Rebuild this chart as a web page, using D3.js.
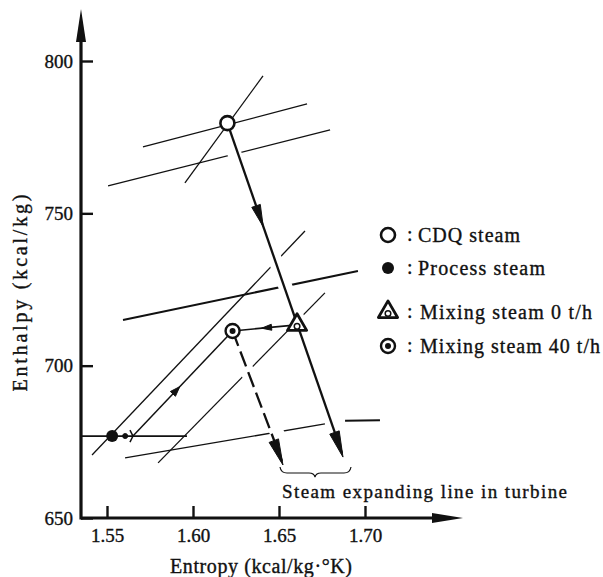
<!DOCTYPE html>
<html>
<head>
	<title>h-s diagram</title>
	<script src="https://d3js.org/d3.v7.min.js"></script>
	<style type="text/css">
		body { margin: 0; background: #fff; }
		text { font-family: "Liberation Serif", "Times New Roman", serif; fill: #111; stroke: #111; stroke-width: 0.35px; }
	</style>
</head>
<body>
<div id="svg"></div>
<script type="text/javascript">
	// tick values
	var entropyTicks = [1.55, 1.60, 1.65, 1.70];
	var enthalpyTicks = [650, 700, 750, 800];

	// steam states
	var stateNames = ["CDQ steam", "Process steam", "Mixing steam 0 t/h", "Mixing steam 40 t/h"];
	var stateEntropy = [1.620, 1.553, 1.6605, 1.623];
	var stateEnthalpy = [779.6, 676.9, 713.4, 711.4];

	// isobar / background lines [s1, h1, s2, h2]
	var isoLines = [
		[1.5709, 771.8, 1.6663, 785.9],
		[1.5506, 759.0, 1.6797, 777.4],
		[1.5953, 760.0, 1.6407, 795.1],
		[1.5593, 715.0, 1.6959, 731.1],
		[1.5605, 669.7, 1.6767, 680.9],
		[1.6884, 681.9, 1.7087, 682.1],
		[1.5349, 676.9, 1.5965, 676.9],
		[1.5413, 670.7, 1.6651, 744.2],
		[1.5797, 668.1, 1.6767, 723.9]
	];
	var isoWidths = [1.3, 1.3, 1.3, 2, 1.3, 2, 1.8, 1.3, 1.3];

	// turbine expansion line end points [s, h]
	var expEndCDQ = [1.6872, 670.0];
	var expEndMix = [1.6523, 667.4];
	// process steam line start
	var processStart = [1.5651, 676.9];

	var width = 603, height = 577;

	var svg = d3.select("#svg")
		.append("svg")
		.attr("width", width)
		.attr("height", height);

	var x = d3.scaleLinear().domain([1.55, 1.70]).range([107, 365]);
	var y = d3.scaleLinear().domain([650, 800]).range([518, 61]);

	var x0 = 81, y0 = 518;

	function arrowHead(g, x1, y1, x2, y2, t, len, half) {
		// head with tip at fraction t along (x1,y1)->(x2,y2)
		var a = Math.atan2(y2 - y1, x2 - x1);
		var tx = x1 + (x2 - x1) * t, ty = y1 + (y2 - y1) * t;
		var bx = tx - len * Math.cos(a), by = ty - len * Math.sin(a);
		var px = -Math.sin(a) * half, py = Math.cos(a) * half;
		g.append("path")
			.attr("d", "M" + tx + "," + ty + "L" + (bx + px) + "," + (by + py) + "L" + (bx - px) + "," + (by - py) + "Z")
			.attr("fill", "#111");
	}

	// isobars
	svg.append("g").selectAll("line")
		.data(isoLines)
		.enter()
		.append("line")
		.attr("x1", d => x(d[0])).attr("y1", d => y(d[1]))
		.attr("x2", d => x(d[2])).attr("y2", d => y(d[3]))
		.attr("stroke", "#111")
		.attr("stroke-width", (d, i) => isoWidths[i]);

	var cdq = [x(stateEntropy[0]), y(stateEnthalpy[0])];
	var proc = [x(stateEntropy[1]), y(stateEnthalpy[1])];
	var mix0 = [x(stateEntropy[2]), y(stateEnthalpy[2])];
	var mix40 = [x(stateEntropy[3]), y(stateEnthalpy[3])];
	var endA = [x(expEndCDQ[0]), y(expEndCDQ[1])];
	var endB = [x(expEndMix[0]), y(expEndMix[1])];
	var pst = [x(processStart[0]), y(processStart[1])];

	// white halos cut the background lines where arrows cross
	var halo = svg.append("g").attr("stroke", "#fff").attr("stroke-width", 14);
	halo.append("line").attr("x1", cdq[0]).attr("y1", cdq[1] + 12).attr("x2", endA[0]).attr("y2", endA[1] - 20);
	halo.append("line").attr("x1", mix40[0]).attr("y1", mix40[1] + 10).attr("x2", endB[0]).attr("y2", endB[1] - 20);

	var arrows = svg.append("g").attr("stroke", "#111");

	// CDQ expansion line
	arrows.append("line")
		.attr("x1", cdq[0]).attr("y1", cdq[1]).attr("x2", endA[0] - 1).attr("y2", endA[1] - 4)
		.attr("stroke-width", 2.3);
	arrowHead(arrows, cdq[0], cdq[1], endA[0], endA[1], 0.31, 22, 4.5);
	arrowHead(arrows, cdq[0], cdq[1], endA[0], endA[1], 1, 26, 5);

	// mixing 40 t/h expansion line (dashed)
	arrows.append("line")
		.attr("x1", mix40[0]).attr("y1", mix40[1]).attr("x2", endB[0] - 1).attr("y2", endB[1] - 4)
		.attr("stroke-width", 2.3)
		.attr("stroke-dasharray", "16,6");
	arrowHead(arrows, mix40[0], mix40[1], endB[0], endB[1], 1, 26, 5);

	// process steam -> mixing 40
	arrows.append("line")
		.attr("x1", pst[0]).attr("y1", pst[1]).attr("x2", mix40[0]).attr("y2", mix40[1])
		.attr("stroke-width", 1.5);
	arrowHead(arrows, pst[0], pst[1], mix40[0], mix40[1], 0.47, 10, 3.5);
	arrows.append("path")
		.attr("d", "M" + (pst[0] - 3) + "," + (pst[1] - 6) + "L" + pst[0] + "," + pst[1] + "L" + (pst[0] - 3) + "," + (pst[1] + 6))
		.attr("fill", "none").attr("stroke-width", 1.5);
	arrows.append("circle").attr("cx", proc[0] + 13).attr("cy", proc[1]).attr("r", 2.5).attr("fill", "#111");

	// mixing 0 -> mixing 40
	arrows.append("line")
		.attr("x1", mix0[0]).attr("y1", mix0[1]).attr("x2", mix40[0]).attr("y2", mix40[1])
		.attr("stroke-width", 1.6);
	arrowHead(arrows, mix0[0], mix0[1], mix40[0], mix40[1], 0.55, 10, 3);

	// brace under expansion lines
	svg.append("path")
		.attr("d", "M280,467 Q281,473 287,473 L309,473 Q314,473 315,477 Q316,473 321,473 L344,473 Q350,473 351,467")
		.attr("fill", "none").attr("stroke", "#111").attr("stroke-width", 1.2);

	svg.append("text")
		.attr("x", 282).attr("y", 498)
		.attr("font-size", 19)
		.attr("textLength", 285).attr("lengthAdjust", "spacing")
		.text("Steam expanding line in turbine");

	// markers
	function drawMarker(g, i, cx, cy) {
		if (i === 0) {
			g.append("circle").attr("cx", cx).attr("cy", cy).attr("r", 7)
				.attr("fill", "#fff").attr("stroke", "#111").attr("stroke-width", 2.6);
		} else if (i === 1) {
			g.append("circle").attr("cx", cx).attr("cy", cy).attr("r", 6).attr("fill", "#111");
		} else if (i === 2) {
			var tri = d3.symbol().type(d3.symbolTriangle).size(160);
			g.append("path").attr("d", tri()).attr("transform", "translate(" + cx + "," + cy + ")")
				.attr("fill", "#fff").attr("stroke", "#111").attr("stroke-width", 2.8).attr("stroke-linejoin", "round");
			g.append("circle").attr("cx", cx).attr("cy", cy + 1.5).attr("r", 2.8)
				.attr("fill", "none").attr("stroke", "#111").attr("stroke-width", 1.5);
		} else {
			g.append("circle").attr("cx", cx).attr("cy", cy).attr("r", 7)
				.attr("fill", "#fff").attr("stroke", "#111").attr("stroke-width", 2.4);
			g.append("circle").attr("cx", cx).attr("cy", cy).attr("r", 3).attr("fill", "#111");
		}
	}

	var marks = svg.append("g");
	stateNames.forEach(function(n, i) {
		drawMarker(marks, i, x(stateEntropy[i]), y(stateEnthalpy[i]));
	});

	// legend
	var legendY = [235, 268, 312, 346];
	var legendEnd = [520, 545, 592, 600];
	var legend = svg.append("g");
	stateNames.forEach(function(n, i) {
		drawMarker(legend, i, 388, legendY[i]);
		legend.append("text").attr("x", 407).attr("y", legendY[i] + 6).attr("font-size", 20).text(":");
		var tx = i < 2 ? 418 : 420;
		legend.append("text")
			.attr("x", tx).attr("y", legendY[i] + 7)
			.attr("font-size", 20)
			.attr("textLength", legendEnd[i] - tx).attr("lengthAdjust", "spacing")
			.text(n);
	});

	// axes
	var xAxis = d3.axisBottom(x).tickValues(entropyTicks).tickFormat(d3.format(".2f"))
		.tickSize(-12).tickPadding(11);
	var yAxis = d3.axisLeft(y).tickValues(enthalpyTicks).tickFormat(d3.format("d"))
		.tickSize(-12).tickPadding(8);

	var gX = svg.append("g").attr("transform", "translate(0," + y0 + ")").call(xAxis);
	var gY = svg.append("g").attr("transform", "translate(" + x0 + ",0)").call(yAxis);
	[gX, gY].forEach(function(g) {
		g.select(".domain").remove();
		g.selectAll(".tick line").attr("stroke", "#111").attr("stroke-width", 2.4);
		g.selectAll(".tick text").attr("font-size", 19).attr("font-family", "Liberation Serif").attr("fill", "#111");
	});

	svg.append("line").attr("x1", x0).attr("y1", y0).attr("x2", 445).attr("y2", y0)
		.attr("stroke", "#111").attr("stroke-width", 3.2);
	svg.append("line").attr("x1", x0).attr("y1", y0 + 1.5).attr("x2", x0).attr("y2", 28)
		.attr("stroke", "#111").attr("stroke-width", 3.2);
	svg.append("path").attr("d", "M463," + y0 + "L432," + (y0 - 5) + "L432," + (y0 + 5) + "Z").attr("fill", "#111");
	svg.append("path").attr("d", "M" + x0 + ",9L" + (x0 - 5) + ",42L" + (x0 + 5) + ",42Z").attr("fill", "#111");

	svg.append("text")
		.attr("transform", "translate(27,293) rotate(-90)")
		.attr("text-anchor", "middle")
		.attr("font-size", 20)
		.attr("textLength", 197).attr("lengthAdjust", "spacing")
		.text("Enthalpy (kcal/kg)");

	svg.append("text")
		.attr("x", 170).attr("y", 573)
		.attr("font-size", 20)
		.attr("textLength", 182).attr("lengthAdjust", "spacing")
		.text("Entropy (kcal/kg\u00b7\u00b0K)");
</script>
</body>
</html>
